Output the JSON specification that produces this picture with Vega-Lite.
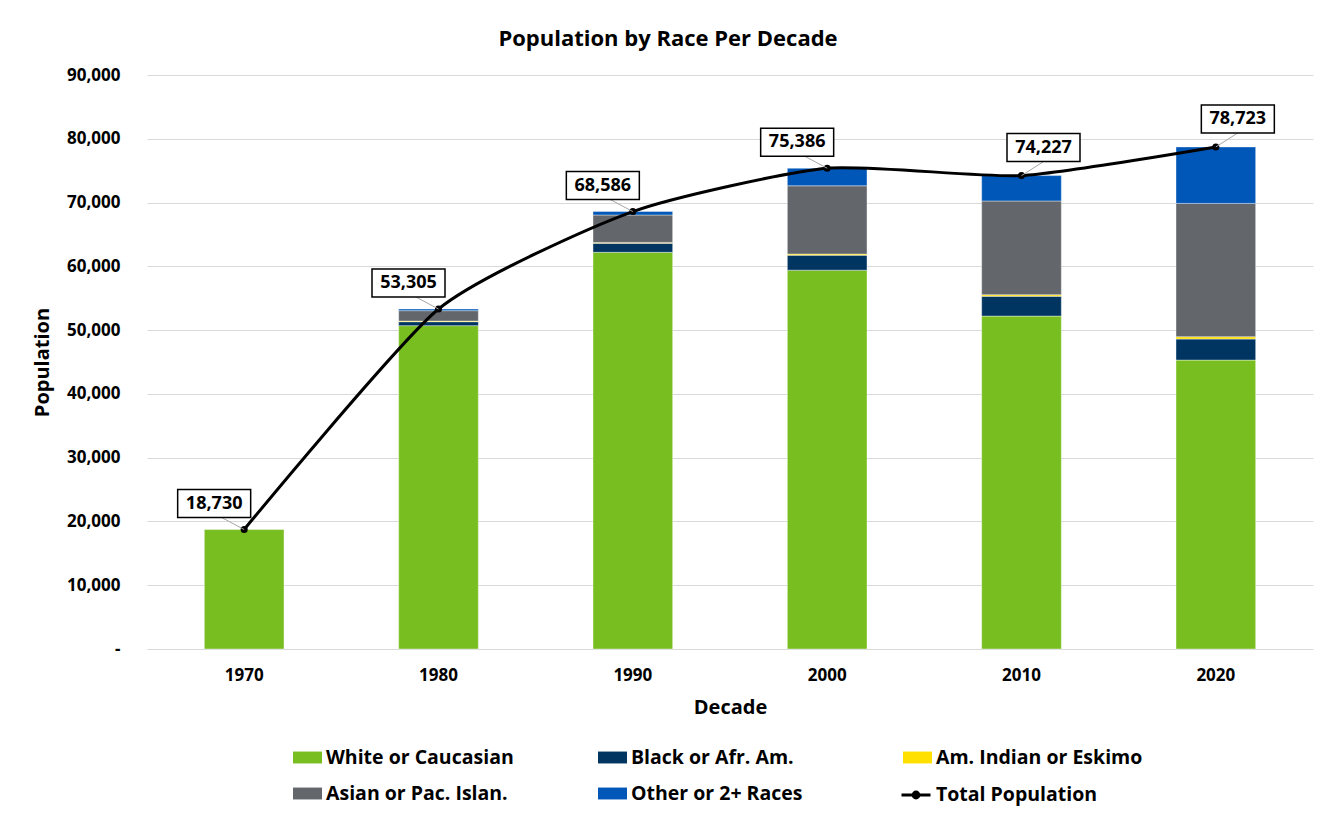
{
  "$schema": "https://vega.github.io/schema/vega-lite/v6.json",
  "width": 1166,
  "height": 574,
  "autosize": {"type": "none"},
  "padding": {"left": 147, "top": 75, "right": 17, "bottom": 170},
  "background": "white",
  "config": {
    "font": "Open Sans",
    "view": {"stroke": null}
  },
  "title": {
    "text": "Population by Race Per Decade",
    "fontSize": 22,
    "fontWeight": "bold",
    "font": "Open Sans",
    "color": "black",
    "anchor": "middle",
    "frame": "group",
    "dx": -62,
    "baseline": "middle",
    "offset": 5
  },
  "resolve": {"scale": {"color": "independent"}, "legend": {"color": "independent"}},
  "datasets": {
    "pop": [
      {"decade": "1970", "race": "White or Caucasian", "value": 18730},
      {"decade": "1980", "race": "White or Caucasian", "value": 50700},
      {"decade": "1980", "race": "Black or Afr. Am.", "value": 620},
      {"decade": "1980", "race": "Am. Indian or Eskimo", "value": 100},
      {"decade": "1980", "race": "Asian or Pac. Islan.", "value": 1630},
      {"decade": "1980", "race": "Other or 2+ Races", "value": 255},
      {"decade": "1990", "race": "White or Caucasian", "value": 62200},
      {"decade": "1990", "race": "Black or Afr. Am.", "value": 1400},
      {"decade": "1990", "race": "Am. Indian or Eskimo", "value": 150},
      {"decade": "1990", "race": "Asian or Pac. Islan.", "value": 4300},
      {"decade": "1990", "race": "Other or 2+ Races", "value": 536},
      {"decade": "2000", "race": "White or Caucasian", "value": 59400},
      {"decade": "2000", "race": "Black or Afr. Am.", "value": 2350},
      {"decade": "2000", "race": "Am. Indian or Eskimo", "value": 180},
      {"decade": "2000", "race": "Asian or Pac. Islan.", "value": 10700},
      {"decade": "2000", "race": "Other or 2+ Races", "value": 2756},
      {"decade": "2010", "race": "White or Caucasian", "value": 52200},
      {"decade": "2010", "race": "Black or Afr. Am.", "value": 3100},
      {"decade": "2010", "race": "Am. Indian or Eskimo", "value": 250},
      {"decade": "2010", "race": "Asian or Pac. Islan.", "value": 14700},
      {"decade": "2010", "race": "Other or 2+ Races", "value": 3977},
      {"decade": "2020", "race": "White or Caucasian", "value": 45300},
      {"decade": "2020", "race": "Black or Afr. Am.", "value": 3300},
      {"decade": "2020", "race": "Am. Indian or Eskimo", "value": 370},
      {"decade": "2020", "race": "Asian or Pac. Islan.", "value": 20900},
      {"decade": "2020", "race": "Other or 2+ Races", "value": 8853}
    ],
    "total": [
      {"decade": "1970", "total": 18730},
      {"decade": "1980", "total": 53305},
      {"decade": "1990", "total": 68586},
      {"decade": "2000", "total": 75386},
      {"decade": "2010", "total": 74227},
      {"decade": "2020", "total": 78723}
    ]
  },
  "encoding": {
    "x": {
      "field": "decade",
      "type": "nominal",
      "scale": {"paddingInner": 0.59, "paddingOuter": 0.295},
      "axis": {
        "title": "Decade",
        "labelAngle": 0,
        "labelFontSize": 17,
        "labelFontWeight": "bold",
        "labelColor": "black",
        "labelPadding": 18,
        "ticks": false,
        "domain": false,
        "titleFontSize": 20,
        "titleFontWeight": "bold",
        "titleColor": "black",
        "titlePadding": 14
      }
    }
  },
  "layer": [
    {
      "data": {"name": "pop"},
      "transform": [
        {"calculate": "indexof(['White or Caucasian', 'Black or Afr. Am.', 'Am. Indian or Eskimo', 'Asian or Pac. Islan.', 'Other or 2+ Races'], datum.race)", "as": "stackRank"}
      ],
      "mark": {"type": "bar", "stroke": "white", "strokeWidth": 0.4},
      "encoding": {
        "y": {
          "field": "value",
          "type": "quantitative",
          "stack": "zero",
          "scale": {"domain": [0, 90000]},
          "axis": {
            "title": "Population",
            "values": [0, 10000, 20000, 30000, 40000, 50000, 60000, 70000, 80000, 90000],
            "labelExpr": "datum.value === 0 ? '-' : format(datum.value, ',')",
            "labelFontSize": 17,
            "labelFontWeight": "bold",
            "labelColor": "black",
            "labelPadding": 27,
            "ticks": false,
            "domain": false,
            "grid": true,
            "gridColor": "#d9d9d9",
            "gridWidth": 1,
            "titleFontSize": 20,
            "titleFontWeight": "bold",
            "titleColor": "black",
            "titleAngle": -90,
            "titleX": -105,
            "titleY": 287,
            "titleAlign": "center",
            "titleBaseline": "middle"
          }
        },
        "order": {"field": "stackRank", "type": "quantitative", "sort": "ascending"},
        "color": {
          "field": "race",
          "type": "nominal",
          "sort": ["White or Caucasian", "Black or Afr. Am.", "Am. Indian or Eskimo", "Asian or Pac. Islan.", "Other or 2+ Races"],
          "scale": {
            "domain": ["White or Caucasian", "Black or Afr. Am.", "Am. Indian or Eskimo", "Asian or Pac. Islan.", "Other or 2+ Races"],
            "range": ["#78BE20", "#003562", "#FFE000", "#63666A", "#0057B8"]
          },
          "legend": {
            "title": null,
            "orient": "none",
            "legendX": 146,
            "legendY": 668,
            "direction": "horizontal",
            "columns": 3,
            "gridAlign": "all",
            "columnPadding": 65,
            "rowPadding": 12,
            "symbolType": "M-1,-0.41L1,-0.41L1,0.41L-1,0.41Z",
            "symbolSize": 841,
            "symbolStrokeWidth": 0,
            "labelOffset": 4,
            "labelFontSize": 19.5,
            "labelFontWeight": "bold",
            "labelColor": "black",
            "labelLimit": 400
          }
        }
      }
    },
    {
      "data": {"name": "total"},
      "mark": {"type": "line", "strokeWidth": 3, "interpolate": "cardinal", "tension": 0.4},
      "encoding": {
        "y": {"field": "total", "type": "quantitative"},
        "color": {
          "datum": "Total Population",
          "type": "nominal",
          "scale": {"domain": ["Total Population"], "range": ["black"]},
          "legend": {
            "title": null,
            "orient": "none",
            "legendX": 753,
            "legendY": 704,
            "symbolType": "M-1,0L1,0M-0.2,0A0.2,0.2 0 1,0 0.2,0A0.2,0.2 0 1,0 -0.2,0Z",
            "symbolSize": 841,
            "symbolStrokeWidth": 3,
            "symbolStrokeColor": "black",
            "symbolFillColor": "black",
            "labelOffset": 4,
            "labelFontSize": 19.5,
            "labelFontWeight": "bold",
            "labelColor": "black",
            "labelLimit": 400
          }
        }
      }
    },
    {
      "data": {"name": "total"},
      "mark": {"type": "point", "filled": true, "color": "black", "size": 50, "opacity": 1},
      "encoding": {
        "y": {"field": "total", "type": "quantitative"}
      }
    },
    {
      "data": {"name": "total"},
      "transform": [{"filter": "datum.decade <= '2000'"}],
      "layer": [
        {
          "mark": {"type": "point", "shape": "M-0.45,-0.24L0,0", "size": 10000, "filled": false, "stroke": "#a6a6a6", "strokeWidth": 1, "opacity": 1},
          "encoding": {"y": {"field": "total", "type": "quantitative"}}
        },
        {
          "mark": {"type": "point", "shape": "M-1.33,-0.8L0.13,-0.8L0.13,-0.24L-1.33,-0.24Z", "size": 10000, "filled": true, "fill": "white", "stroke": "black", "strokeWidth": 1.5, "opacity": 1},
          "encoding": {"y": {"field": "total", "type": "quantitative"}}
        },
        {
          "mark": {"type": "text", "dx": -30, "dy": -26, "fontSize": 18, "fontWeight": "bold", "color": "black", "baseline": "middle", "align": "center"},
          "encoding": {
            "y": {"field": "total", "type": "quantitative"},
            "text": {"field": "total", "type": "quantitative", "format": ","}
          }
        }
      ]
    },
    {
      "data": {"name": "total"},
      "transform": [{"filter": "datum.decade > '2000'"}],
      "layer": [
        {
          "mark": {"type": "point", "shape": "M0.44,-0.28L0,0", "size": 10000, "filled": false, "stroke": "#a6a6a6", "strokeWidth": 1, "opacity": 1},
          "encoding": {"y": {"field": "total", "type": "quantitative"}}
        },
        {
          "mark": {"type": "point", "shape": "M-0.29,-0.84L1.17,-0.84L1.17,-0.28L-0.29,-0.28Z", "size": 10000, "filled": true, "fill": "white", "stroke": "black", "strokeWidth": 1.5, "opacity": 1},
          "encoding": {"y": {"field": "total", "type": "quantitative"}}
        },
        {
          "mark": {"type": "text", "dx": 22, "dy": -28, "fontSize": 18, "fontWeight": "bold", "color": "black", "baseline": "middle", "align": "center"},
          "encoding": {
            "y": {"field": "total", "type": "quantitative"},
            "text": {"field": "total", "type": "quantitative", "format": ","}
          }
        }
      ]
    }
  ]
}
